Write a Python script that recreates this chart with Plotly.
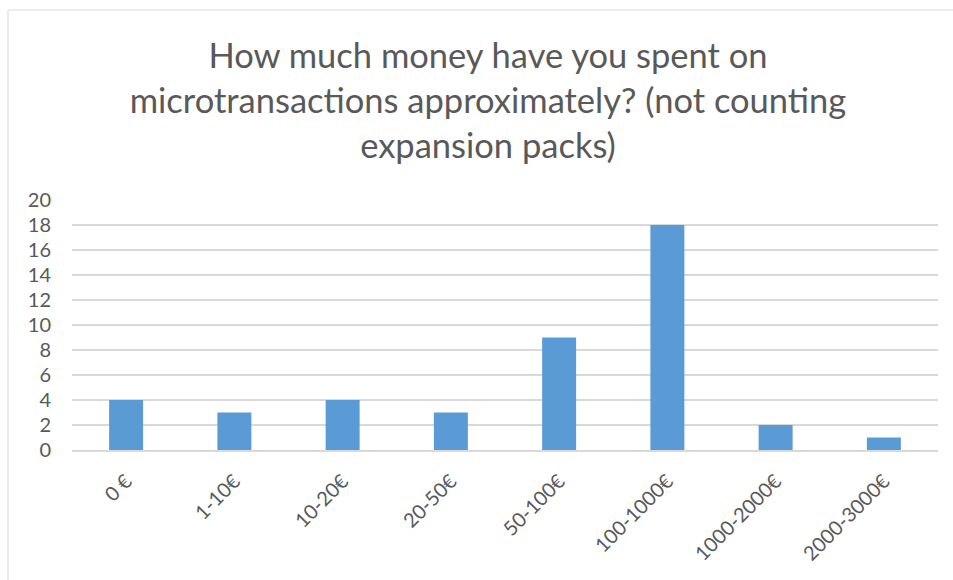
import plotly.graph_objects as go

# Survey answers: amount spent on microtransactions
categories = ["0 €", "1-10€", "10-20€", "20-50€", "50-100€", "100-1000€", "1000-2000€", "2000-3000€"]
counts = [4, 3, 4, 3, 9, 18, 2, 1]
y_ticks = list(range(0, 21, 2))

title_text = ("How much money have you spent on<br>"
              "microtransactions approximately? (not counting<br>"
              "expansion packs)")

FONT = "Lato, 'Open Sans', sans-serif"
GRAY = "#595959"

fig = go.Figure(
    go.Bar(
        x=categories,
        y=counts,
        marker=dict(color="#5B9BD5", line=dict(width=0)),
        hoverinfo="x+y",
    )
)

fig.update_layout(
    width=953,
    height=580,
    margin=dict(l=72, r=15, t=200, b=130),
    paper_bgcolor="white",
    plot_bgcolor="white",
    bargap=0.686,
    showlegend=False,
    font=dict(family=FONT, color=GRAY),
    title=dict(
        text=title_text,
        x=488 / 953,
        xanchor="center",
        y=1 - 68 / 580,
        yanchor="top",
        font=dict(size=34.5, color=GRAY, family=FONT),
    ),
    xaxis=dict(
        type="category",
        tickangle=-45,
        tickfont=dict(size=20, color=GRAY),
        showgrid=False,
        showline=True,
        linecolor="#D9D9D9",
        linewidth=1.5,
        ticks="outside",
        ticklen=10,
        tickcolor="rgba(0,0,0,0)",
    ),
    yaxis=dict(
        range=[0, 20],
        tickvals=y_ticks,
        tickfont=dict(size=20, color=GRAY),
        showgrid=True,
        gridcolor="#D9D9D9",
        gridwidth=1.5,
        zeroline=False,
        showline=False,
        ticks="",
        ticklabelstandoff=20,
    ),
    shapes=[
        # chart frame (left and top edges)
        dict(type="line", xref="paper", yref="paper",
             x0=(8 - 72) / 866, x1=(8 - 72) / 866, y0=(450 - 10) / 250, y1=(450 - 585) / 250,
             line=dict(color="#D9D9D9", width=1)),
        dict(type="line", xref="paper", yref="paper",
             x0=(8 - 72) / 866, x1=(960 - 72) / 866, y0=(450 - 10) / 250, y1=(450 - 10) / 250,
             line=dict(color="#D9D9D9", width=1)),
    ],
)

fig.write_html("out.html")
